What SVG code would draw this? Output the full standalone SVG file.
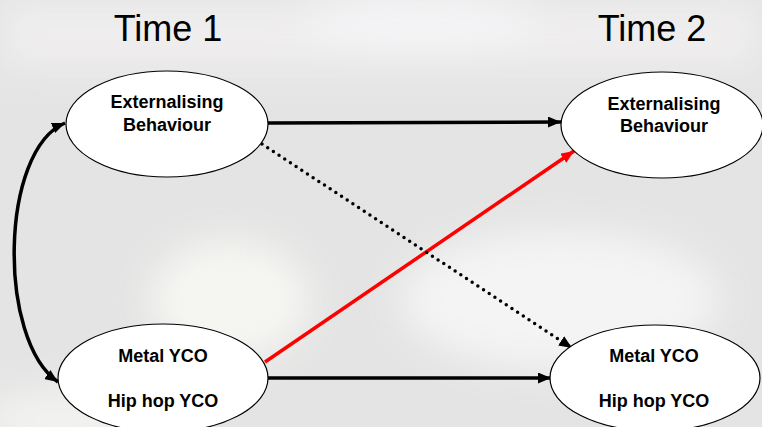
<svg xmlns="http://www.w3.org/2000/svg" width="762" height="427" viewBox="0 0 762 427">
<style>
.node ellipse{fill:#fff;stroke:#000;stroke-width:1.2}
.lbl{font-family:"Liberation Sans",Arial,sans-serif;font-weight:bold;font-size:18px;fill:#000;text-anchor:middle}
.time{font-family:"Liberation Sans",Arial,sans-serif;font-size:36px;fill:#000;text-anchor:middle}
.conn{fill:none;stroke:#000;stroke-width:3.5}
</style>
<defs>
<marker id="ah" viewBox="0 0 13 11" refX="13" refY="5.5" markerWidth="13" markerHeight="11" markerUnits="userSpaceOnUse" orient="auto-start-reverse">
<path d="M0,0 L13,5.5 L0,11 z" fill="#000"/>
</marker>
<marker id="ahr" viewBox="0 0 13 11" refX="13" refY="5.5" markerWidth="13" markerHeight="11" markerUnits="userSpaceOnUse" orient="auto">
<path d="M0,0 L13,5.5 L0,11 z" fill="#ff0000"/>
</marker>
<filter id="blur" x="-50%" y="-50%" width="200%" height="200%"><feGaussianBlur stdDeviation="18"/></filter>
</defs>
<rect width="762" height="427" fill="#e4e4e4"/>
<g filter="url(#blur)" opacity="0.8">
<rect x="0" y="0" width="762" height="70" fill="#f2f0f1"/>
<ellipse cx="230" cy="300" rx="80" ry="60" fill="#fafaf6"/>
<ellipse cx="560" cy="300" rx="160" ry="70" fill="#f8f8f8"/>
<ellipse cx="60" cy="420" rx="80" ry="30" fill="#f6f6f4"/>
<ellipse cx="420" cy="20" rx="120" ry="30" fill="#f8f8fa"/>
</g>
<g id="connectors">
<line class="conn" x1="268" y1="123" x2="561" y2="122" marker-end="url(#ah)"/>
<line class="conn" x1="268" y1="378" x2="551" y2="378" marker-end="url(#ah)"/>
<line class="conn" x1="265" y1="362" x2="574" y2="151" style="stroke:#ff0000" marker-end="url(#ahr)"/>
<line class="conn" x1="262" y1="144" x2="572" y2="348" stroke-dasharray="0 6.8" stroke-linecap="round" marker-end="url(#ah)"/>
<path class="conn" d="M65,123 C0,150 -3,340 58,382" marker-start="url(#ah)" marker-end="url(#ah)"/>
</g>
<text class="time" x="168" y="41">Time 1</text>
<text class="time" x="652" y="41">Time 2</text>
<g id="ext1" class="node">
<ellipse cx="167" cy="124" rx="101" ry="53"/>
<text class="lbl" x="167" y="108">Externalising</text>
<text class="lbl" x="167" y="131">Behaviour</text>
</g>
<g id="ext2" class="node">
<ellipse cx="662" cy="125" rx="101" ry="53"/>
<text class="lbl" x="664" y="110">Externalising</text>
<text class="lbl" x="664" y="132">Behaviour</text>
</g>
<g id="music1" class="node">
<ellipse cx="163" cy="378" rx="105" ry="54"/>
<text class="lbl" x="163" y="362">Metal YCO</text>
<text class="lbl" x="163" y="407">Hip hop YCO</text>
</g>
<g id="music2" class="node">
<ellipse cx="655" cy="378" rx="105" ry="53"/>
<text class="lbl" x="654" y="362">Metal YCO</text>
<text class="lbl" x="654" y="407">Hip hop YCO</text>
</g>
</svg>
